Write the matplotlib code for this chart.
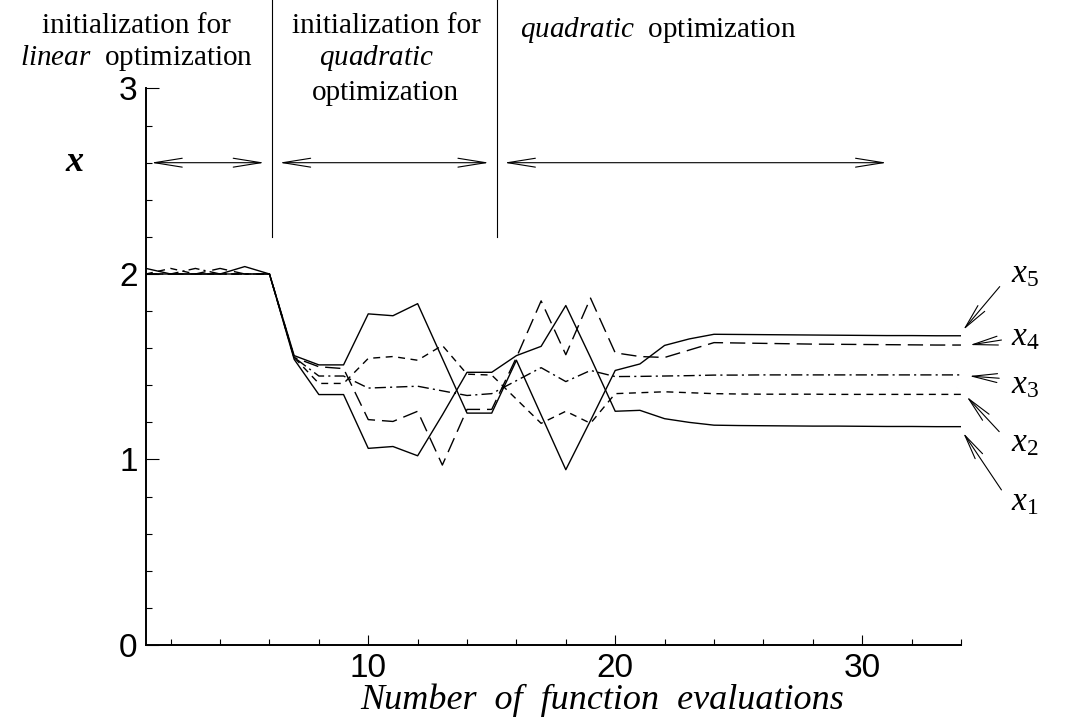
import matplotlib
matplotlib.use("Agg")
import matplotlib.pyplot as plt
from matplotlib.ticker import MultipleLocator

plt.rcParams['font.family'] = ['Liberation Serif', 'DejaVu Serif']
plt.rcParams['mathtext.fontset'] = 'custom'
plt.rcParams['mathtext.rm'] = 'Liberation Serif'
plt.rcParams['mathtext.it'] = 'Liberation Serif:italic'
plt.rcParams['mathtext.bf'] = 'Liberation Serif:bold:italic'

# data
evals = list(range(1, 35))
x1 = [2.03, 2.0, 2.0, 2.0, 2.0, 2.0, 1.54, 1.35, 1.35, 1.06, 1.07, 1.02, 1.24, 1.47, 1.47, 1.56, 1.61,
      1.83, 1.55, 1.26, 1.265, 1.22, 1.20, 1.185, 1.183, 1.182, 1.181, 1.18, 1.18, 1.179, 1.178, 1.178,
      1.177, 1.177]
x2 = [2.0, 2.03, 2.0, 2.0, 2.0, 2.0, 1.55, 1.41, 1.41, 1.545, 1.555, 1.535, 1.615, 1.46, 1.455, 1.325,
      1.195, 1.26, 1.195, 1.355, 1.36, 1.365, 1.36, 1.355, 1.353, 1.352, 1.352, 1.352, 1.351, 1.351,
      1.351, 1.351, 1.351, 1.351]
x3 = [2.0, 2.0, 2.03, 2.0, 2.0, 2.0, 1.55, 1.45, 1.45, 1.385, 1.39, 1.395, 1.37, 1.345, 1.355, 1.425,
      1.495, 1.42, 1.48, 1.447, 1.448, 1.45, 1.452, 1.455, 1.455, 1.456, 1.456, 1.456, 1.456, 1.456,
      1.456, 1.456, 1.456, 1.456]
x4 = [2.0, 2.0, 2.0, 2.03, 2.0, 2.0, 1.55, 1.50, 1.49, 1.215, 1.205, 1.26, 0.97, 1.27, 1.27, 1.55,
      1.855, 1.565, 1.87, 1.575, 1.555, 1.55, 1.59, 1.63, 1.628, 1.626, 1.624, 1.622, 1.621, 1.62,
      1.619, 1.618, 1.617, 1.617]
x5 = [2.0, 2.0, 2.0, 2.0, 2.04, 2.0, 1.56, 1.51, 1.51, 1.785, 1.775, 1.84, 1.545, 1.25, 1.25, 1.535,
      1.24, 0.945, 1.21, 1.48, 1.515, 1.615, 1.65, 1.675, 1.674, 1.673, 1.672, 1.671, 1.67, 1.669,
      1.668, 1.668, 1.667, 1.667]

fig = plt.figure(figsize=(10.83, 7.23), dpi=100)
ax = fig.add_axes([0.1348, 0.1079, 0.7525, 0.7697])

lw = 1.0
ax.plot(evals, x1, color='black', lw=lw, linestyle='-')
ax.plot(evals, x2, color='black', lw=lw, linestyle=(0, (5, 4)))
ax.plot(evals, x3, color='black', lw=lw, linestyle=(0, (8, 3, 1.5, 3)))
ax.plot(evals, x4, color='black', lw=lw, linestyle=(0, (11, 5)))
ax.plot(evals, x5, color='black', lw=lw, linestyle='-')

ax.set_xlim(1, 34)
ax.set_ylim(0, 3)
ax.spines['top'].set_visible(False)
ax.spines['right'].set_visible(False)
ax.spines['left'].set_linewidth(1.4)
ax.spines['bottom'].set_linewidth(1.4)

ax.xaxis.set_major_locator(MultipleLocator(10))
ax.xaxis.set_minor_locator(MultipleLocator(2))
ax.yaxis.set_major_locator(MultipleLocator(1))
ax.yaxis.set_minor_locator(MultipleLocator(0.2))
ax.tick_params(axis='both', which='both', direction='in', width=0.8)
ax.tick_params(axis='x', which='major', length=7)
ax.tick_params(axis='x', which='minor', length=4.5)
ax.tick_params(axis='y', which='major', length=9)
ax.tick_params(axis='y', which='minor', length=4.5)
ax.tick_params(axis='both', which='major', labelsize=24, pad=6)
for lab in ax.get_xticklabels() + ax.get_yticklabels():
    lab.set_fontfamily('Liberation Sans')

fig.text(602 / 1083, 1 - 709 / 723, 'Number  of  function  evaluations', fontsize=26,
         style='italic', ha='center', va='baseline')
ax.text(-1.9, 2.6, 'x', fontsize=26, fontweight='bold', style='italic', ha='center', va='center')

# phase separators and arrows
sep = [6.1, 15.2]
for s in sep:
    ax.plot([s, s], [2.2, 3.48], color='black', lw=0.8, clip_on=False)

ar = dict(arrowstyle='<->,head_length=1.0,head_width=0.16', lw=0.8, color='black',
          mutation_scale=20, shrinkA=0, shrinkB=0)
ax.annotate('', xy=(1.2, 2.6), xytext=(5.8, 2.6), arrowprops=ar)
ax.annotate('', xy=(6.4, 2.6), xytext=(14.9, 2.6), arrowprops=ar)
ax.annotate('', xy=(15.5, 2.6), xytext=(31.0, 2.6), arrowprops=ar)

tk = dict(fontsize=21, ha='center', va='center', transform=fig.transFigure)
fig.text(136 / 1083, 1 - 26 / 723, 'initialization for', **tk)
fig.text(136 / 1083, 1 - 58 / 723, r'$\mathit{linear}$  optimization', **tk)
fig.text(386 / 1083, 1 - 26 / 723, 'initialization for', **tk)
fig.text(376 / 1083, 1 - 58 / 723, r'$\mathit{quadratic}$', **tk)
fig.text(385 / 1083, 1 - 93 / 723, 'optimization', **tk)
fig.text(520 / 1083, 1 - 30 / 723, r'$\mathit{quadratic}$  optimization', fontsize=21, ha='left',
         va='center', transform=fig.transFigure)

# labels at the right end
names = [r'$x_{\mathit{5}}$', r'$x_{\mathit{4}}$', r'$x_{\mathit{3}}$', r'$x_{\mathit{2}}$', r'$x_{\mathit{1}}$']
tips = [(34.09, 1.698), (34.36, 1.617), (34.33, 1.450), (34.23, 1.339), (34.09, 1.144)]
tails = [(35.57, 1.932), (35.64, 1.644), (35.55, 1.438), (35.55, 1.150), (35.64, 0.836)]
labpos = [(36.6, 2.0), (36.6, 1.66), (36.6, 1.40), (36.6, 1.09), (36.6, 0.77)]
ar2 = dict(arrowstyle='->,head_length=0.9,head_width=0.16', lw=0.8, color='black',
           mutation_scale=20, shrinkA=0, shrinkB=0)
for n, t, tl, lp in zip(names, tips, tails, labpos):
    ax.annotate('', xy=t, xytext=tl, arrowprops=ar2, annotation_clip=False)
    ax.text(lp[0], lp[1], n, fontsize=24, ha='center', va='center', clip_on=False)

fig.savefig('out.png', dpi=100)
